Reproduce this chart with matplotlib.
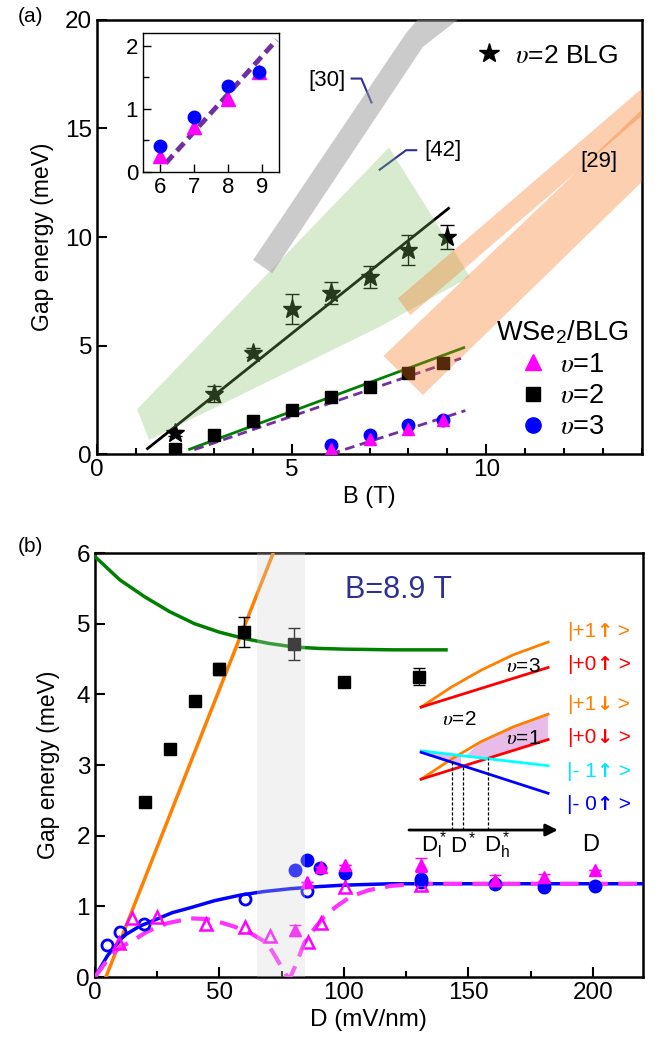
#!/usr/bin/env python3
"""
Gap energy vs B (panel a) and vs D (panel b) for WSe2/BLG.
"""
import numpy as np
import matplotlib
matplotlib.use("Agg")
import matplotlib.pyplot as plt
from matplotlib.lines import Line2D

plt.rcParams['font.family'] = ['Liberation Sans', 'DejaVu Sans']
plt.rcParams['mathtext.fontset'] = 'custom'
plt.rcParams['mathtext.rm'] = 'Liberation Sans'
plt.rcParams['mathtext.it'] = 'STIXGeneral:italic'
plt.rcParams['mathtext.bf'] = 'Liberation Sans:bold'

# ---------------- panel (a) data ----------------
B_blg = [2, 3, 4, 5, 6, 7, 8, 9]
E_blg = [0.98, 2.76, 4.67, 6.68, 7.43, 8.17, 9.40, 10.0]
err_blg = [0.15, 0.37, 0.2, 0.7, 0.5, 0.5, 0.7, 0.57]

B_nu2 = [2, 3, 4, 5, 6, 7, 8, 8.9]
E_nu2 = [0.24, 0.88, 1.52, 2.03, 2.64, 3.10, 3.72, 4.18]

B_nu13 = [6, 7, 8, 8.9]
E_nu1 = [0.25, 0.71, 1.16, 1.58]
E_nu3 = [0.41, 0.87, 1.36, 1.59]

fit_blg_B = [1.3, 9.03]
fit_blg_E = [0.25, 11.32]
fit_nu2_B = [2.38, 9.42]
fit_nu2_E = [0.22, 4.90]
fit_nu2d_B = [2.5, 9.35]
fit_nu2d_E = [0.2, 4.41]
fit_nu13_B = [6.0, 9.46]
fit_nu13_E = [0.0, 2.0]
ins_fit_B = [6.17, 9.43]
ins_fit_E = [0.14, 2.09]

# literature bands
band42_B = [1.03, 7.5, 9.58, 7.26, 1.34]
band42_E = [2.06, 14.13, 8.17, 5.86, 0.65]
band30_B = [4.01, 7.94, 8.23, 9.26, 8.37, 4.50]
band30_E = [8.94, 19.4, 20.0, 20.0, 18.76, 8.33]
band29a_B = [7.73, 14.0, 14.0, 8.05]
band29a_E = [7.17, 16.85, 15.6, 6.40]
band29b_B = [7.36, 14.0, 14.0, 8.37]
band29b_E = [4.52, 15.88, 12.55, 2.72]
lead30_B = [6.54, 6.79, 7.05]
lead30_E = [17.3, 17.3, 16.2]
lead42_B = [7.26, 7.94, 8.2]
lead42_E = [13.1, 14.0, 14.0]

# ---------------- panel (b) data ----------------
D_sq = [20, 30, 40, 50, 60, 100, 130]
E_sq = [2.47, 3.23, 3.90, 4.36, 4.88, 4.17, 4.25]
err_sq = [0.0, 0.0, 0.0, 0.08, 0.21, 0.0, 0.12]
D_sq_band = [80]
E_sq_band = [4.71]
err_sq_band = [0.23]

D_oc = [4.7, 10.1, 19.8, 60.1, 85.3, 130.8]
E_oc = [0.45, 0.64, 0.75, 1.11, 1.22, 1.35]
D_ot = [9.8, 14.8, 24.8, 44.4, 60.1, 70.2, 85.6, 90.7, 100.4, 130.8]
E_ot = [0.48, 0.83, 0.85, 0.75, 0.71, 0.58, 0.49, 0.76, 1.27, 1.30]
D_fc = [80.2, 85.3, 90.4, 100.4, 130.8, 160.6, 180.5, 200.7]
E_fc = [1.52, 1.65, 1.54, 1.47, 1.38, 1.31, 1.28, 1.29]
D_ft = [80.2, 85.3, 90.7, 100.4, 130.8, 160.6, 180.5, 200.7]
E_ft = [0.66, 1.35, 1.55, 1.58, 1.58, 1.37, 1.41, 1.52]
err_ft = [0.08, 0.0, 0.0, 0.0, 0.1, 0.08, 0.05, 0.0]

green_D = [0, 10, 20, 30, 40, 50, 60, 70, 80, 90, 100, 120, 141]
green_E = [5.95, 5.62, 5.38, 5.17, 5.00, 4.88, 4.79, 4.72, 4.67, 4.65, 4.64, 4.63, 4.63]
orange_D = [4.4, 71.6]
orange_E = [0.0, 6.0]
blue_D = [0, 5, 11.4, 18, 24.9, 31, 38.3, 48, 58.5, 68, 78.6, 90, 100, 119, 220]
blue_E = [0, 0.30, 0.58, 0.72, 0.82, 0.91, 0.98, 1.08, 1.16, 1.21, 1.25, 1.28, 1.30, 1.32, 1.32]
mag_D = [0, 6, 10, 15.5, 20.8, 28.9, 38.3, 45, 51.7, 57, 62.5, 69.2, 73.3, 77.3, 78.5,
         81, 84, 88, 92, 97, 102.8, 110, 119, 130, 220]
mag_E = [0, 0.29, 0.42, 0.52, 0.64, 0.76, 0.83, 0.82, 0.76, 0.70, 0.62, 0.48, 0.24, 0.0, 0.0,
         0.2, 0.48, 0.68, 0.85, 1.0, 1.14, 1.23, 1.29, 1.32, 1.32]
band_D = (65, 84.5)

# level schematic (inset of panel b)
sch_D = [131, 143, 155, 168, 182]
sch_orange_hi = [3.82, 4.10, 4.34, 4.56, 4.74]
sch_orange_lo = [2.80, 3.08, 3.33, 3.54, 3.72]
sch_line_D = [131, 182]
sch_red_hi = [3.82, 4.38]
sch_red_lo = [2.80, 3.36]
sch_cyan = [3.20, 2.99]
sch_blue = [3.18, 2.60]
pink_D = [149, 155, 168, 182, 182, 168, 157.5]
pink_E = [3.13, 3.33, 3.54, 3.72, 3.36, 3.21, 3.09]
pink2_D = [131, 147, 147]
pink2_E = [3.20, 3.13, 3.00]
dstar_D = [143.5, 148, 157.8]
dstar_top = [3.05, 3.00, 3.10]
dstar_lbl = [r'D$^*_{\mathrm{l}}$', r'D$^*$', r'D$^*_{\mathrm{h}}$']
dstar_lbl_D = [136.4, 148, 161.7]
level_state = ['|+1', '|+0', '|+1', '|+0', '|- 1', '|- 0']
level_spin = ['↑', '↑', '↓', '↓', '↑', '↑']
level_lbl_E = [4.93, 4.46, 3.89, 3.42, 2.95, 2.48]
level_col = ['#ff8000', '#ff0000', '#ff8000', '#ff0000', '#00e5ff', '#0000ff']

MAG = '#ff00ff'
BLU = '#0000ff'
PUR = '#7030a0'
NAVY = '#2e3192'
GRN = '#008000'
ORG = '#ff8000'
TICK_FS = 17.5

fig = plt.figure(figsize=(6.64, 10.51), dpi=100)
ax1 = fig.add_axes([0.146, 0.568, 0.821, 0.413])
ax2 = fig.add_axes([0.143, 0.0704, 0.825, 0.4034])
ins = fig.add_axes([0.2154, 0.8363, 0.2048, 0.1323])


def style_axes(ax, size):
    for s in ax.spines.values():
        s.set_linewidth(1.8)
    ax.tick_params(which='both', direction='in', top=False, right=False,
                   labelsize=size, width=1.5)
    ax.tick_params(which='major', length=7)
    ax.tick_params(which='minor', length=4)


# ---------------- panel (a) ----------------
ax1.fill(band42_B, band42_E, color='#80c062', alpha=0.3, lw=0, zorder=6)
ax1.fill(band30_B, band30_E, color='#999999', alpha=0.5, lw=0, zorder=6)
ax1.fill(band29a_B, band29a_E, color='#f4761d', alpha=0.35, lw=0, zorder=6)
ax1.fill(band29b_B, band29b_E, color='#f4761d', alpha=0.35, lw=0, zorder=6)

ax1.plot(fit_blg_B, fit_blg_E, color='k', lw=2, zorder=3)
ax1.plot(fit_nu2_B, fit_nu2_E, color=GRN, lw=2, zorder=3)
ax1.plot(fit_nu2d_B, fit_nu2d_E, color=PUR, lw=2, dashes=(3.5, 2), zorder=3)
ax1.plot(fit_nu13_B, fit_nu13_E, color=PUR, lw=2, dashes=(3.5, 2), zorder=3)

ax1.errorbar(B_blg, E_blg, yerr=err_blg, fmt='*', color='k', ms=14, capsize=5,
             elinewidth=1, capthick=1, zorder=4)
ax1.plot(B_nu2, E_nu2, 's', color='k', ms=9, zorder=4)
ax1.plot(B_nu13, E_nu3, 'o', color=BLU, ms=9, zorder=4)
ax1.plot(B_nu13, E_nu1, '^', color=MAG, ms=9, zorder=4)

ax1.plot(lead30_B, lead30_E, color=NAVY, lw=1.5)
ax1.plot(lead42_B, lead42_E, color=NAVY, lw=1.5)
ax1.text(5.90, 17.2, '[30]', fontsize=16, ha='center', va='center')
ax1.text(8.41, 14.0, '[42]', fontsize=16, ha='left', va='center')
ax1.text(12.9, 13.5, '[29]', fontsize=16, ha='center', va='center', zorder=7)

ax1.set_xlim(0, 14)
ax1.set_ylim(0, 20)
ax1.set_xticks([0, 5, 10])
ax1.set_xticks(range(0, 15), minor=True)
ax1.set_yticks([0, 5, 10, 15, 20])
style_axes(ax1, TICK_FS)
ax1.set_xlabel('B (T)', fontsize=17, labelpad=4)
ax1.set_ylabel('Gap energy (meV)', fontsize=16.5, labelpad=8)

star_h = Line2D([], [], marker='*', color='k', ls='none', ms=15)
leg1 = ax1.legend([star_h], [r'$\upsilon$=2 BLG'], loc='upper right', frameon=False,
                  fontsize=19, handlelength=1.0, handletextpad=0.5,
                  borderaxespad=0.5)
ax1.add_artist(leg1)
hs = [Line2D([], [], marker='^', color=MAG, ls='none', ms=11),
      Line2D([], [], marker='s', color='k', ls='none', ms=10),
      Line2D([], [], marker='o', color=BLU, ls='none', ms=11)]
ax1.legend(hs, [r'$\upsilon$=1', r'$\upsilon$=2', r'$\upsilon$=3'],
           title=r'WSe$_2$/BLG', title_fontsize=19.5, loc='lower right',
           frameon=False, fontsize=19.5, handlelength=1.0, handletextpad=0.5,
           labelspacing=0.2, borderaxespad=0.1)

# inset
ins.plot(ins_fit_B, ins_fit_E, color=PUR, lw=3.5, dashes=(2.2, 1.2), zorder=3)
ins.plot(B_nu13, E_nu1, '^', color=MAG, ms=10, zorder=4)
ins.plot(B_nu13, E_nu3, 'o', color=BLU, ms=9, zorder=4)
ins.set_xlim(5.5, 9.5)
ins.set_ylim(0, 2.2)
ins.set_xticks([6, 7, 8, 9])
ins.set_yticks([0, 1, 2])
ins.set_yticks([0.5, 1.5], minor=True)
for s in ins.spines.values():
    s.set_linewidth(1.0)
ins.tick_params(which='both', direction='in', labelsize=16, width=1)
ins.tick_params(which='major', length=6)
ins.tick_params(which='minor', length=4)

fig.text(18 / 664, 1 - 17 / 1051, '(a)', fontsize=15, ha='left', va='center')

# ---------------- panel (b) ----------------
ax2.axvspan(*band_D, color='#d4d4d4', alpha=0.3, lw=0, zorder=10)
ax2.plot(green_D, green_E, color=GRN, lw=2.5, zorder=3)
ax2.plot(orange_D, orange_E, color=ORG, lw=2.5, zorder=3)
ax2.plot(blue_D, blue_E, color=BLU, lw=2.5, zorder=3)
ax2.plot(mag_D, mag_E, color='#ff33ff', lw=3, dashes=(4.5, 2.5), zorder=3)

ax2.errorbar(D_sq, E_sq, yerr=err_sq, fmt='s', color='k', ms=8, capsize=4,
             elinewidth=1, capthick=1, zorder=4)
ax2.errorbar(D_sq_band, E_sq_band, yerr=err_sq_band, fmt='s', color='k', ms=8,
             capsize=4, elinewidth=1, capthick=1, zorder=4)
ax2.plot(D_oc, E_oc, 'o', mfc='none', mec=BLU, mew=2, ms=8, zorder=4)
ax2.plot(D_ot, E_ot, '^', mfc='none', mec=MAG, mew=1.8, ms=9, zorder=4)
ax2.plot(D_fc, E_fc, 'o', color=BLU, ms=9, zorder=4)
ax2.errorbar(D_ft, E_ft, yerr=err_ft, fmt='^', color=MAG, ms=9, capsize=4,
             elinewidth=1, capthick=1, zorder=5)

ax2.text(122, 5.47, 'B=8.9 T', color=NAVY, fontsize=22, ha='center', va='center')

# level schematic
ax2.fill(pink_D, pink_E, color='#e8bce8', lw=0, zorder=2)
ax2.fill(pink2_D, pink2_E, color='#e8bce8', lw=0, zorder=2)
ax2.plot(sch_D, sch_orange_hi, color=ORG, lw=2, zorder=3)
ax2.plot(sch_line_D, sch_red_hi, color='#ff0000', lw=2, zorder=3)
ax2.plot(sch_D, sch_orange_lo, color=ORG, lw=2, zorder=3)
ax2.plot(sch_line_D, sch_red_lo, color='#ff0000', lw=2, zorder=3)
ax2.plot(sch_line_D, sch_cyan, color='#00ffff', lw=2, zorder=3)
ax2.plot(sch_line_D, sch_blue, color=BLU, lw=2, zorder=3)
for d, top in zip(dstar_D, dstar_top):
    ax2.plot([d, d], [2.08, top], color='k', lw=0.9, ls=(0, (2.5, 1.5)), zorder=3)
ax2.annotate('', xy=(187, 2.08), xytext=(125, 2.08),
             arrowprops=dict(arrowstyle='-|>', color='k', lw=2,
                             mutation_scale=18), zorder=3)
for d, lbl in zip(dstar_lbl_D, dstar_lbl):
    ax2.text(d, 1.87, lbl, fontsize=16, ha='center', va='center')
ax2.text(199, 1.87, 'D', fontsize=17, ha='center', va='center')
ax2.text(172, 4.40, r'$\upsilon$=3', fontsize=15, ha='center', va='center')
ax2.text(146.5, 3.64, r'$\upsilon$=2', fontsize=15, ha='center', va='center')
ax2.text(172, 3.38, r'$\upsilon$=1', fontsize=15, ha='center', va='center')

# level labels: state, bold spin arrow, closing bracket drawn piece by piece
for st, sp, e, c in zip(level_state, level_spin, level_lbl_E, level_col):
    t = ax2.text(189.5, e - 0.17, st, color=c, fontsize=15, ha='left', va='bottom')
    t = ax2.annotate(sp, xy=(1, 0), xycoords=t, color=c, fontsize=14,
                     family='DejaVu Sans', fontweight='bold', va='bottom')
    ax2.annotate(' >', xy=(1, 0), xycoords=t, color=c, fontsize=15, va='bottom')

ax2.set_xlim(0, 220)
ax2.set_ylim(0, 6)
ax2.set_xticks([0, 50, 100, 150, 200])
ax2.set_xticks(range(0, 221, 25), minor=True)
ax2.set_yticks(range(0, 7))
style_axes(ax2, TICK_FS)
ax2.set_xlabel('D (mV/nm)', fontsize=17.5, labelpad=4)
ax2.set_ylabel('Gap energy (meV)', fontsize=16.5, labelpad=12)

fig.text(18 / 664, 1 - 547 / 1051, '(b)', fontsize=15, ha='left', va='center')

fig.savefig('out.png', dpi=100)
